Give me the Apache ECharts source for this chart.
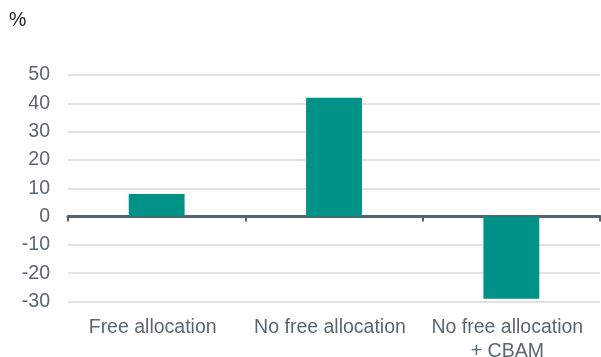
<!DOCTYPE html>
<html>
<head>
<meta charset="utf-8">
<script src="https://cdn.jsdelivr.net/npm/echarts@6/dist/echarts.min.js"></script>
<style>
  html, body { margin: 0; padding: 0; background: #fff; }
  #chart { width: 601px; height: 357px; }
</style>
</head>
<body>
<div id="chart"></div>
<script>
// Scenario categories and their percentage change
const categories = ['Free allocation', 'No free allocation', 'No free allocation\n+ CBAM'];
const values = [8, 42, -29];
const yTicks = { min: -30, max: 50, interval: 10 };
const unitLabel = '%';

const textColor = '#5b6770';
const fontFamily = 'Liberation Sans, Arial, sans-serif';

const chart = echarts.init(document.getElementById('chart'), null, { renderer: 'canvas' });
chart.setOption({
  animation: false,
  backgroundColor: '#ffffff',
  title: {
    text: unitLabel,
    left: 4,
    top: 6,
    textStyle: { fontSize: 19.5, fontWeight: 'normal', color: '#1e1e1e', fontFamily }
  },
  grid: { left: 68, right: 1, top: 75, bottom: 55.5, containLabel: false, outerBoundsMode: 'none' },
  xAxis: [
    {
      // zero line with category boundary ticks
      type: 'category',
      data: categories,
      axisLine: { onZero: true, lineStyle: { color: '#56636b', width: 3 } },
      axisTick: { show: true, alignWithLabel: false, length: 5, lineStyle: { color: '#56636b', width: 2 } },
      axisLabel: { show: false },
      splitLine: { show: false }
    },
    {
      // category names along the bottom
      type: 'category',
      data: categories,
      position: 'bottom',
      axisLine: { show: false, onZero: false },
      axisTick: { show: false },
      axisLabel: {
        show: true,
        margin: 14,
        color: textColor,
        fontSize: 19.5,
        lineHeight: 24,
        fontFamily,
        interval: 0,
        padding: [0, 8, 0, 0]
      },
      splitLine: { show: false }
    }
  ],
  yAxis: {
    type: 'value',
    min: yTicks.min,
    max: yTicks.max,
    interval: yTicks.interval,
    axisLine: { show: false },
    axisTick: { show: false },
    axisLabel: { margin: 18, color: textColor, fontSize: 19.5, fontFamily },
    splitLine: { show: true, lineStyle: { color: '#d9d9d9', width: 1.5 } }
  },
  series: [
    {
      type: 'bar',
      xAxisIndex: 0,
      data: values,
      barWidth: '31.5%',
      itemStyle: { color: '#009187' }
    }
  ]
});
</script>
</body>
</html>
